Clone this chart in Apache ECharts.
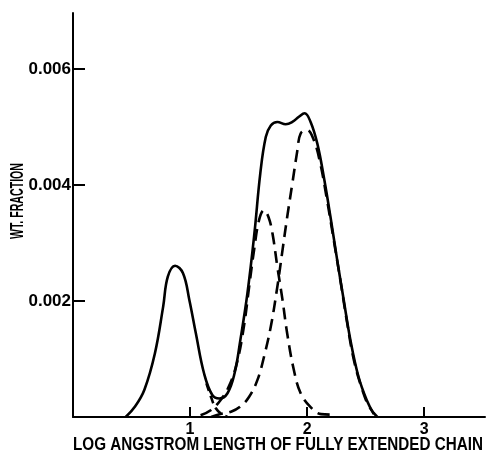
<!DOCTYPE html>
<html>
<head>
<meta charset="utf-8">
<script src="https://cdn.jsdelivr.net/npm/echarts@6/dist/echarts.min.js"></script>
<style>html,body{margin:0;padding:0;background:#fff}#c{width:490px;height:457px}</style>
</head>
<body>
<div id="c"></div>
<script>
// Total (solid) curve
var sumX = [0.45,0.53,0.61,0.70,0.77,0.81,0.872,0.94,0.994,1.05,1.12,1.19,1.25,1.32,1.38,1.43,1.49,1.55,1.60,1.647,1.69,1.746,1.817,1.874,1.93,1.979,2.03,2.087,2.143,2.20,2.257,2.313,2.37,2.44,2.51,2.57];
var sumY = [0,0.00018,0.00047,0.0011,0.0019,0.00242,0.00261,0.00248,0.00202,0.00144,0.00075,0.00038,0.00032,0.00041,0.00075,0.00133,0.00213,0.00317,0.0042,0.00483,0.00503,0.00509,0.00505,0.00509,0.00518,0.00524,0.00509,0.00472,0.00414,0.00345,0.00271,0.00202,0.00133,0.00069,0.00029,0.00005];
// Component peaked near 1.63 (dashed)
var compBX = [1.09,1.18,1.26,1.33,1.40,1.46,1.505,1.547,1.59,1.632,1.67,1.704,1.746,1.79,1.83,1.887,1.945,2.03,2.12,2.22];
var compBY = [0.00003,0.00012,0.00029,0.00052,0.00093,0.00156,0.00225,0.00288,0.0034,0.00357,0.00345,0.00317,0.00259,0.00202,0.00144,0.00081,0.00041,0.00017,0.00005,0.00004];
// Component peaked near 2.0 (dashed)
var compCX = [1.18,1.26,1.35,1.43,1.505,1.576,1.632,1.69,1.746,1.79,1.83,1.874,1.917,1.945,2.0,2.057,2.113,2.17,2.228,2.285,2.34,2.40,2.47,2.53,2.60];
var compCY = [0,0.00005,0.00009,0.00018,0.00035,0.00064,0.00104,0.00156,0.00225,0.00288,0.00345,0.00403,0.0046,0.00489,0.00495,0.00478,0.00437,0.00375,0.00305,0.00235,0.00165,0.00098,0.00048,0.00018,0];
// Tail of the first component (dashed)
var compAX = [1.14,1.18,1.22,1.27,1.32];
var compAY = [0.00058,0.00034,0.00015,0.00005,0];

var xTicks = [1,2,3];
var yTicks = [0.002,0.004,0.006];
var xTitle = 'LOG ANGSTROM LENGTH OF FULLY EXTENDED CHAIN';
var yTitle = 'WT. FRACTION';

function zip(a,b){return a.map(function(v,i){return [v,b[i]];});}

var titleFont = 'bold 18px "Liberation Sans"';
var yTitleFont = 'bold 19px "Liberation Sans"';
var mctx = document.createElement('canvas').getContext('2d');
function fitScale(font, text, target){mctx.font = font; return target / mctx.measureText(text).width;}

var chart = echarts.init(document.getElementById('c'), null, {renderer:'canvas'});
var lineW = 2.6;
chart.setOption({
  animation:false,
  backgroundColor:'#fff',
  grid:{left:73,right:5,top:13,bottom:40,outerBoundsMode:'none',containLabel:false},
  xAxis:{
    type:'value',min:0,max:3.52,interval:1,
    axisLine:{show:true,lineStyle:{color:'#000',width:2}},
    axisTick:{show:true,inside:true,length:10,lineStyle:{color:'#000',width:2},customValues:xTicks},
    axisLabel:{show:true,customValues:xTicks,margin:5,color:'#000',fontFamily:'Liberation Sans',fontWeight:'bold',fontSize:16},
    splitLine:{show:false}
  },
  yAxis:{
    type:'value',min:0,max:0.00697,interval:0.002,
    axisLine:{show:true,lineStyle:{color:'#000',width:2}},
    axisTick:{show:true,inside:true,length:12,lineStyle:{color:'#000',width:2},customValues:yTicks},
    axisLabel:{show:true,customValues:yTicks,margin:2,color:'#000',fontFamily:'Liberation Sans',fontWeight:'bold',fontSize:17,
      formatter:function(v){return v.toFixed(3);}},
    splitLine:{show:false}
  },
  graphic:[{
    type:'text',x:18,y:201,rotation:Math.PI/2,scaleX:fitScale(yTitleFont,yTitle,76),
    style:{text:yTitle,fill:'#000',font:yTitleFont,textAlign:'center',textVerticalAlign:'middle'}
  },{
    type:'text',x:278,y:445,scaleX:fitScale(titleFont,xTitle,410),
    style:{text:xTitle,fill:'#000',font:titleFont,textAlign:'center',textVerticalAlign:'middle'}
  }],
  series:[
    {type:'line',data:zip(sumX,sumY),showSymbol:false,smooth:0.4,lineStyle:{color:'#000',width:lineW}},
    {type:'line',data:zip(compBX,compBY),showSymbol:false,smooth:0.4,lineStyle:{color:'#000',width:lineW,type:[12,7]}},
    {type:'line',data:zip(compCX,compCY),showSymbol:false,smooth:0.4,lineStyle:{color:'#000',width:lineW,type:[12,7]}},
    {type:'line',data:zip(compAX,compAY),showSymbol:false,smooth:0.4,lineStyle:{color:'#000',width:lineW,type:[8,5]}}
  ]
});
</script>
</body>
</html>
